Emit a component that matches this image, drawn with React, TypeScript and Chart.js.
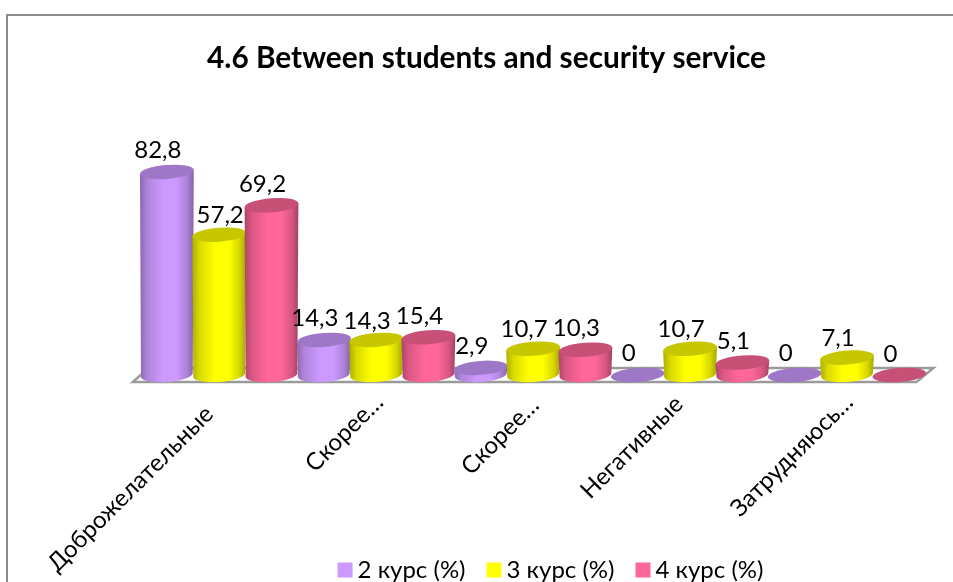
import React, { useEffect, useRef } from "react";
import { Chart, registerables, type Plugin } from "chart.js";

Chart.register(...registerables);

const categories = ["Доброжелательные", "Скорее…", "Скорее…", "Негативные", "Затрудняюсь…"];
const secondYear = [82.8, 14.3, 2.9, 0, 0];
const thirdYear = [57.2, 14.3, 10.7, 10.7, 7.1];
const fourthYear = [69.2, 15.4, 10.3, 5.1, 0];
const seriesNames = ["2 курс (%)", "3 курс (%)", "4 курс (%)"];
const seriesColors = ["#CC99FF", "#FFFF00", "#FF6699"];
const titleText = "4.6 Between students and security service";

const FONT = "Lato, 'Open Sans', sans-serif";
const BASELINE_Y = 375;
const TILT = (-4.5 * Math.PI) / 180;
const CAP_RY = 7;
const LABEL_RISE = [22, 19, 21];
// Tick label anchors wander a little around the category centre.
const TICK_NUDGE: [number, number][] = [[-10, -5], [3, -17], [2, -14], [-11, -15], [2, -17]];

function shade(hex: string, k: number): string {
  const n = parseInt(hex.slice(1), 16);
  const ch = (v: number) => Math.round(v * k);
  return `rgb(${ch((n >> 16) & 255)},${ch((n >> 8) & 255)},${ch(n & 255)})`;
}

function drawCylinder(ctx: CanvasRenderingContext2D, cx: number, top: number, base: number, width: number, color: string) {
  const rxTop = width / 2 + 0.8;
  const rxBase = width / 2 - 0.2;
  if (base - top > 0.5) {
    const grad = ctx.createLinearGradient(cx - rxTop, 0, cx + rxTop, 0);
    grad.addColorStop(0, shade(color, 0.68));
    grad.addColorStop(0.14, shade(color, 0.86));
    grad.addColorStop(0.42, shade(color, 1));
    grad.addColorStop(0.68, shade(color, 1));
    grad.addColorStop(0.88, shade(color, 0.84));
    grad.addColorStop(1, shade(color, 0.64));
    ctx.beginPath();
    ctx.moveTo(cx - rxTop * Math.cos(TILT), top - rxTop * Math.sin(TILT));
    ctx.lineTo(cx - rxBase * Math.cos(TILT), base - rxBase * Math.sin(TILT));
    ctx.ellipse(cx, base, rxBase, CAP_RY, TILT, Math.PI, 0, true);
    ctx.lineTo(cx + rxTop * Math.cos(TILT), top + rxTop * Math.sin(TILT));
    ctx.closePath();
    ctx.fillStyle = grad;
    ctx.fill();
  }
  ctx.beginPath();
  ctx.ellipse(cx, top, rxTop, CAP_RY, TILT, 0, Math.PI * 2);
  ctx.fillStyle = shade(color, 0.78);
  ctx.fill();
}

function drawFloor(ctx: CanvasRenderingContext2D, left: number, right: number, base: number) {
  ctx.beginPath();
  ctx.moveTo(left - 8, base + 7);
  ctx.lineTo(right - 9, base + 7);
  ctx.lineTo(right + 8, base - 7);
  ctx.lineTo(left + 8, base - 7);
  ctx.closePath();
  ctx.fillStyle = "#ffffff";
  ctx.fill();
  ctx.lineWidth = 2.4;
  ctx.strokeStyle = "#9a9a9a";
  ctx.stroke();
}

const centerBox = (box: any, cx: number) => {
  const half = (box.right - box.left) / 2;
  box.left = cx - half;
  box.right = cx + half;
};

const cylinderPlugin: Plugin<"bar"> = {
  id: "cylinders",
  beforeDraw(chart) {
    const { ctx, width, height } = chart;
    ctx.save();
    ctx.fillStyle = "#ffffff";
    ctx.fillRect(0, 0, width, height);
    ctx.strokeStyle = "#8c8c8c";
    ctx.lineWidth = 2;
    ctx.beginPath();
    ctx.moveTo(7, height);
    ctx.lineTo(7, 15);
    ctx.lineTo(width, 15);
    ctx.stroke();
    ctx.restore();

    const items: any[] = (chart.scales.x as any).getLabelItems();
    items.forEach((item, i) => {
      const [x, y] = item.options.translation;
      item.options.translation = [x + TICK_NUDGE[i][0], y + TICK_NUDGE[i][1]];
    });
  },
  afterLayout(chart) {
    centerBox(chart.titleBlock, 486.5);
    centerBox(chart.legend, 554);
    const legend: any = chart.legend;
    const h = legend.bottom - legend.top;
    legend.top = 561 - h / 2;
    legend.bottom = legend.top + h;
    // Long rotated labels run past the axis box, so let them use the full canvas height.
    chart.scales.x.bottom = chart.height;
  },
  beforeDatasetsDraw(chart) {
    const { ctx, chartArea } = chart;
    ctx.save();
    drawFloor(ctx, chartArea.left, chartArea.right, chartArea.bottom);
    const metas = chart.data.datasets.map((_, i) => chart.getDatasetMeta(i));
    categories.forEach((_, c) => {
      metas.forEach((meta, s) => {
        const bar: any = meta.data[c];
        drawCylinder(ctx, bar.x, bar.y, bar.base, bar.width, seriesColors[s]);
      });
    });
    ctx.fillStyle = "#000000";
    ctx.font = `24px ${FONT}`;
    ctx.textAlign = "center";
    ctx.textBaseline = "middle";
    categories.forEach((_, c) => {
      metas.forEach((meta, s) => {
        const bar: any = meta.data[c];
        const v = chart.data.datasets[s].data[c] as number;
        // The tall yellow column's value sits squarely over it, clear of its neighbours.
        const dx = c === 0 && s === 1 ? 1 : -9;
        ctx.fillText(String(v).replace(".", ","), bar.x + dx, bar.y - LABEL_RISE[s]);
      });
    });
    ctx.restore();
    return false;
  },
};

export default function App() {
  const ref = useRef<HTMLCanvasElement>(null);
  useEffect(() => {
    const chart = new Chart(ref.current!, {
      type: "bar",
      data: {
        labels: categories,
        datasets: [secondYear, thirdYear, fourthYear].map((data, i) => ({
          label: seriesNames[i],
          data,
          backgroundColor: seriesColors[i],
          barPercentage: 1,
          categoryPercentage: 1,
        })),
      },
      plugins: [cylinderPlugin],
      options: {
        animation: false,
        responsive: false,
        events: [],
        layout: { padding: { right: 27.5 } },
        scales: {
          x: {
            grid: { display: false },
            border: { display: false },
            ticks: {
              autoSkip: false,
              minRotation: 45,
              maxRotation: 45,
              padding: 22,
              color: "#000000",
              font: { family: FONT, size: 24 },
            },
            afterFit(scale: any) {
              scale.paddingLeft = 0;
              scale.paddingRight = 0;
              scale.height = scale.chart.height - BASELINE_Y - scale.chart.legend.height;
            },
          },
          y: {
            min: 0,
            max: 100,
            ticks: { display: false },
            grid: { display: false },
            border: { display: false },
            afterFit(scale: any) {
              scale.width = 140.7;
            },
          },
        },
        plugins: {
          tooltip: { enabled: false },
          title: {
            display: true,
            text: titleText,
            color: "#000000",
            font: { family: FONT, size: 29.8, weight: "bold" },
            padding: { top: 41, bottom: 53 },
          },
          legend: {
            position: "bottom",
            labels: {
              color: "#000000",
              usePointStyle: true,
              pointStyle: "rect",
              boxWidth: 1,
              boxHeight: 15,
              padding: 28,
              font: { family: FONT, size: 24 },
            },
          },
        },
      },
    });
    return () => chart.destroy();
  }, []);
  return (
    <div style={{ position: "fixed", left: 0, top: 0, width: 953, height: 582 }}>
      <canvas ref={ref} width={953} height={582} style={{ display: "block" }} />
    </div>
  );
}
